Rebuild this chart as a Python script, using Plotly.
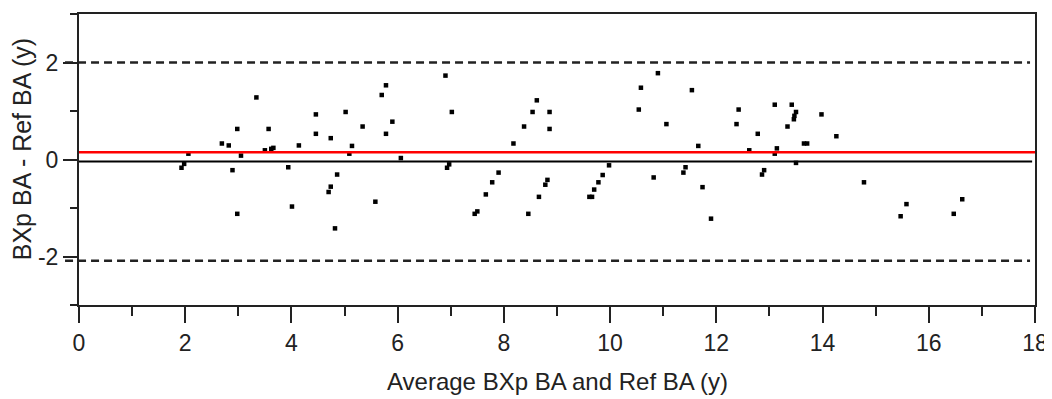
import plotly.graph_objects as go

# Bland-Altman data
avg_ba = [1.93, 1.98, 2.06, 2.69, 2.82, 2.89, 2.98, 2.98, 3.05, 3.34, 3.50, 3.57, 3.62, 3.66,
          3.94, 4.01, 4.14, 4.46, 4.46, 4.74, 4.70, 4.74, 4.82, 4.86, 5.02, 5.09, 5.14, 5.34,
          5.58, 5.70, 5.78, 5.78, 5.90, 6.06, 6.90, 6.93, 6.97, 7.02, 7.45, 7.50, 7.66, 7.78,
          7.90, 8.18, 8.38, 8.46, 8.54, 8.62, 8.66, 8.78, 8.82, 8.86, 8.86, 9.61, 9.66, 9.70,
          9.78, 9.86, 9.98, 10.54, 10.58, 10.82, 10.90, 11.06, 11.38, 11.42, 11.54, 11.66,
          11.74, 11.90, 12.38, 12.42, 12.62, 12.78, 12.86, 12.90, 13.10, 13.10, 13.14, 13.34,
          13.42, 13.46, 13.47, 13.50, 13.50, 13.65, 13.71, 13.98, 14.26, 14.78, 15.47, 15.58,
          16.47, 16.63]
diff_ba = [-0.17, -0.09, 0.12, 0.33, 0.29, -0.22, 0.63, -1.12, 0.08, 1.28, 0.19, 0.63, 0.22, 0.24,
           -0.16, -0.97, 0.29, 0.93, 0.53, 0.44, -0.67, -0.56, -1.42, -0.31, 0.98, 0.12, 0.28, 0.68,
           -0.87, 1.33, 1.53, 0.53, 0.78, 0.03, 1.73, -0.17, -0.10, 0.98, -1.12, -1.07, -0.72, -0.47,
           -0.27, 0.33, 0.68, -1.12, 0.98, 1.22, -0.77, -0.52, -0.42, 0.98, 0.63, -0.77, -0.77, -0.62,
           -0.47, -0.32, -0.12, 1.03, 1.48, -0.37, 1.78, 0.73, -0.27, -0.16, 1.43, 0.28,
           -0.57, -1.22, 0.73, 1.03, 0.19, 0.53, -0.31, -0.22, 1.13, 0.12, 0.23, 0.68,
           1.13, 0.83, 0.90, 0.98, -0.07, 0.33, 0.33, 0.93, 0.48, -0.47, -1.17, -0.92,
           -1.12, -0.82]

mean_diff = -0.04
upper_loa = 2.0
lower_loa = -2.09
red_line = 0.15

y_tick_vals = [-2, 0, 2]
y_tick_text = ["-2", "0", "2"]

x_title = "Average BXp BA and Ref BA (y)"
y_title = "BXp BA - Ref BA (y)"

FONT = "Liberation Sans, Arial, sans-serif"
AX = "#222222"

fig = go.Figure()
fig.add_trace(go.Scatter(
    x=avg_ba, y=diff_ba, mode="markers",
    marker=dict(symbol="square", size=4.5, color="black", line=dict(width=0)),
    showlegend=False, cliponaxis=False,
))

shapes = [
    dict(type="line", xref="paper", yref="y", x0=-0.0146, x1=0.9948, y0=upper_loa, y1=upper_loa,
         line=dict(color=AX, width=2.5, dash="8px,5px")),
    dict(type="line", xref="paper", yref="y", x0=-0.0146, x1=0.9948, y0=lower_loa, y1=lower_loa,
         line=dict(color=AX, width=2.5, dash="8px,5px")),
    dict(type="line", xref="paper", yref="y", x0=0, x1=0.997, y0=mean_diff, y1=mean_diff,
         line=dict(color="black", width=2)),
    dict(type="line", xref="paper", yref="y", x0=0, x1=1, y0=red_line, y1=red_line,
         line=dict(color="#ff0000", width=2.5)),
]

# The page body adds an 8px offset, so the figure is 8px smaller in each direction
fig.update_layout(
    width=1044, height=391,
    margin=dict(l=71, r=14, t=4, b=94),
    paper_bgcolor="white", plot_bgcolor="white",
    font=dict(family=FONT, size=23, color=AX),
    shapes=shapes,
    annotations=[
        dict(text=x_title, xref="paper", yref="paper", x=0.5, y=-0.262,
             xanchor="center", yanchor="middle", showarrow=False,
             font=dict(family=FONT, size=24, color=AX)),
        dict(text=y_title, xref="paper", yref="paper", x=-0.0594, y=0.536,
             xanchor="center", yanchor="middle", showarrow=False, textangle=-90,
             font=dict(family=FONT, size=25, color=AX)),
    ],
)

fig.update_xaxes(
    range=[0, 18], tick0=0, dtick=2, ticks="outside", ticklen=16, tickwidth=2, tickcolor=AX,
    minor=dict(dtick=1, ticks="outside", ticklen=9, tickwidth=2, tickcolor=AX),
    showline=True, linewidth=2, linecolor=AX, mirror=True,
    showgrid=False, zeroline=False, tickfont=dict(size=23),
)
fig.update_yaxes(
    range=[-3, 3], tickmode="array", tickvals=y_tick_vals, ticktext=y_tick_text,
    ticks="outside", ticklen=14, tickwidth=2, tickcolor=AX,
    minor=dict(tickmode="linear", tick0=-3, dtick=1, ticks="outside", ticklen=7, tickwidth=2, tickcolor=AX),
    showline=True, linewidth=2, linecolor=AX, mirror=True,
    showgrid=False, zeroline=False, tickfont=dict(size=23),
)

fig.write_html("out.html")
